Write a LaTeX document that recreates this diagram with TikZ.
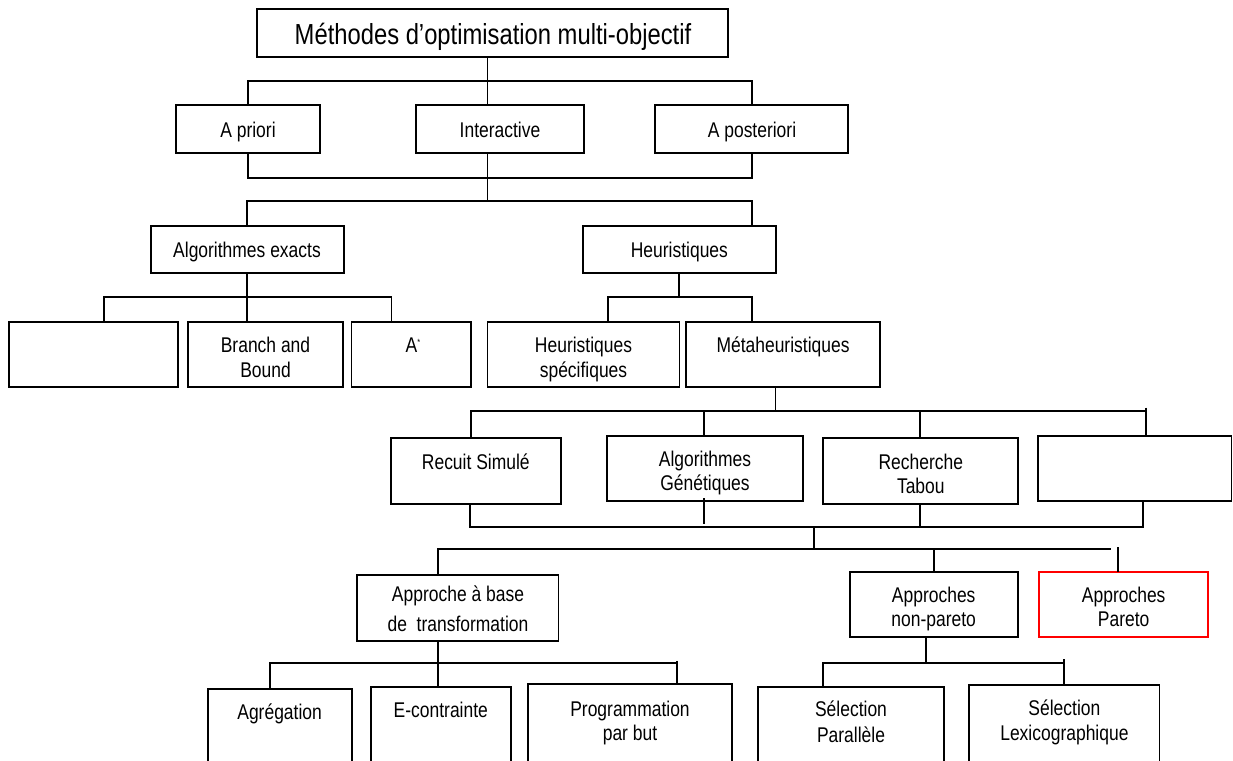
\documentclass[tikz,border=0pt]{standalone}
\usepackage{fontspec}
\setmainfont{Liberation Sans}[FakeStretch=0.82]
\newcommand\nf{\fontsize{21.3}{25}\selectfont}
\newcommand\rf{\fontsize{29}{34}\selectfont}
\newcommand\mkbox[6][]{\node[bx,#1,minimum width={#4-#3},minimum height={#6-#5}] (#2) at ({(#3+#4)/2},{(#5+#6)/2}) {};}
\newcommand\mktxt[4]{\node[lbl] (#1) at (#2,#3) {#4};}
\begin{document}
\begin{tikzpicture}[x=1pt,y=-1pt,
  bx/.style={draw=black,line width=1.9pt,inner sep=0pt,outer sep=0pt},
  lbl/.style={anchor=base,inner sep=0pt,font=\nf,text=black},
  conn/.style={draw=black,line width=1.9pt}]
\fill[white] (0,0) rectangle (1233,760);
\useasboundingbox (0,0) rectangle (1233,760);
\begin{scope}
\clip (0,0) rectangle (1233,760);
% boxes
\mkbox{root}{257.4}{728.4}{9}{57.3}
\mkbox{apri}{175.6}{320.3}{105.3}{153.3}
\mkbox{inter}{416}{583.6}{105.3}{153.3}
\mkbox{apost}{655.3}{848.3}{105.3}{153.3}
\mkbox{algo}{150.6}{343.6}{226}{273.3}
\mkbox{heur}{583.2}{775.6}{226}{273.3}
\mkbox{ex1}{9.1}{178}{321.7}{386.7}
\mkbox{bb}{187.8}{343.2}{321.7}{386.7}
\mkbox{astar}{351.5}{471.3}{321.7}{386.7}
\mkbox{hspec}{487.5}{679.5}{321.7}{386.7}
\mkbox{meta}{686}{879.8}{321.7}{386.7}
\mkbox{rs}{390.9}{560.6}{438.3}{504}
\mkbox{ag}{607.4}{802.7}{435.7}{501}
\mkbox{rt}{823.4}{1018.2}{437.7}{504}
\mkbox{e2}{1038.3}{1231.5}{435.7}{500.7}
\mkbox{appr}{356.9}{558.5}{575}{641}
\mkbox{np}{849.6}{1017.8}{571.7}{636.7}
\mkbox[draw=red]{par}{1039.2}{1208.2}{571.7}{636.7}
\mkbox{agr}{207.6}{351.6}{689}{790}
\mkbox{ec}{370.8}{510.8}{687}{790}
\mkbox{prog}{527.7}{732.3}{684}{790}
\mkbox{sp}{757.8}{944}{686.7}{790}
\mkbox{sl}{969.2}{1159.5}{685}{790}
% texts
\node[lbl,font=\rf] (t-root) at (493,45) {Méthodes d’optimisation multi-objectif};
\mktxt{t-apri}{248}{137}{A priori}
\mktxt{t-inter}{500}{137}{Interactive}
\mktxt{t-apost}{752}{137}{A posteriori}
\mktxt{t-algo}{247}{257}{Algorithmes exacts}
\mktxt{t-heur}{679.4}{257}{Heuristiques}
\mktxt{t-bb1}{265.5}{352}{Branch and}
\mktxt{t-bb2}{265.5}{377}{Bound}
\mktxt{t-astar}{413}{352}{A\raisebox{7pt}{\fontsize{9}{9}\selectfont *}}
\mktxt{t-hs1}{583.5}{352}{Heuristiques}
\mktxt{t-hs2}{583.5}{377}{spécifiques}
\mktxt{t-meta}{783}{352}{Métaheuristiques}
\mktxt{t-rs}{475.8}{469}{Recuit Simulé}
\mktxt{t-ag1}{705}{466}{Algorithmes}
\mktxt{t-ag2}{705}{490.3}{Génétiques}
\mktxt{t-rt1}{920.8}{469}{Recherche}
\mktxt{t-rt2}{920.8}{493.3}{Tabou}
\mktxt{t-ap1}{458}{601.7}{Approche à base}
\mktxt{t-ap2}{458}{631}{de\ \ transformation}
\mktxt{t-np1}{933.7}{602.7}{Approches}
\mktxt{t-np2}{933.7}{626.7}{non-pareto}
\mktxt{t-pa1}{1123.7}{602.7}{Approches}
\mktxt{t-pa2}{1123.7}{626.7}{Pareto}
\mktxt{t-agr}{279.6}{719}{Agrégation}
\mktxt{t-ec}{440.8}{717.3}{E-contrainte}
\mktxt{t-pr1}{630}{716.7}{Programmation}
\mktxt{t-pr2}{630}{740.7}{par but}
\mktxt{t-sp1}{851}{716.7}{Sélection}
\mktxt{t-sp2}{851}{742.3}{Parallèle}
\mktxt{t-sl1}{1064.4}{715.3}{Sélection}
\mktxt{t-sl2}{1064.4}{740.7}{Lexicographique}
% connectors level 0-1
\coordinate (j1) at (487.5,81);
\draw[conn] (root.south -| j1) -- (j1);
\draw[conn] (apri.north) |- (j1) -| (apost.north);
\draw[conn] (j1) -- (j1 |- inter.north);
\coordinate (j2) at (487.5,177.7);
\draw[conn] (apri.south) |- (j2) -| (apost.south);
\coordinate (j3) at (487.5,201.3);
\draw[conn] (j1 |- inter.south) -- (j3);
\draw[conn] (algo.north) |- (j3) -| (apost.south |- heur.north);
% level 2-3 left
\coordinate (j4) at (248,297.3);
\coordinate (j4a) at (103.6,297.3);
\coordinate (j4c) at (391.5,297.3);
\draw[conn] (algo.south) -- (algo.south |- j4);
\draw[conn] (j4a |- ex1.north) -- (j4a) -- (j4c) -- (j4c |- astar.north);
\draw[conn] (algo.south |- j4) -- (algo.south |- bb.north);
% level 2-3 right
\coordinate (j5a) at (608,296.7);
\coordinate (j5b) at (752.2,296.7);
\draw[conn] (heur.south) -- (heur.south |- j5a);
\draw[conn] (j5a |- hspec.north) -- (j5a) -- (j5b) -- (j5b |- meta.north);
% level 3-4
\coordinate (j6) at (775.5,410.7);
\coordinate (j6a) at (471.4,410.7);
\coordinate (j6b) at (703.7,410.7);
\coordinate (j6c) at (919.7,410.7);
\coordinate (j6d) at (1146,410.7);
\draw[conn] (j6 |- meta.south) -- (j6);
\draw[conn] (j6a |- rs.north) -- (j6a) -- (j6d);
\draw[conn] (j6b) -- (j6b |- ag.north);
\draw[conn] (j6c) -- (j6c |- rt.north);
\draw[conn] ([yshift=3pt]j6d) -- (j6d |- e2.north);
% level 4 bottom
\coordinate (j7) at (813.6,526.7);
\coordinate (j7a) at (469.8,526.7);
\coordinate (j7d) at (1143.3,526.7);
\draw[conn] (j7a |- rs.south) -- (j7a) -- (j7d) -- (j7d |- e2.south);
\draw[conn] ([yshift=3pt]j6b |- ag.south) -- ([yshift=3pt]j6b |- j7);
\draw[conn] (j6c |- rt.south) -- (j6c |- j7);
\coordinate (j8) at (813.6,549);
\draw[conn] (j7) -- (j8);
% level 5
\coordinate (j8a) at (438,549);
\coordinate (j8b) at (1111.3,549);
\coordinate (j8c) at (1118,547.3);
\draw[conn] (j8a |- appr.north) -- (j8a) -- (j8b);
\draw[conn] (np.north |- j8a) -- (np.north);
\draw[conn] (j8c) -- (j8c |- par.north);
% level 5-6 left
\coordinate (j9a) at (269.7,663.3);
\coordinate (j9b) at (438,663.3);
\coordinate (j9c) at (676.6,663.3);
\draw[conn] (j9b |- appr.south) -- (j9b);
\draw[conn] (j9a |- agr.north) -- (j9a) -- (j9c);
\draw[conn] (j9b) -- (j9b |- ec.north);
\draw[conn] ([yshift=2.5pt]j9c) -- (j9c |- prog.north);
% level 5-6 right
\coordinate (j10a) at (823.4,663.3);
\coordinate (j10b) at (926,663.3);
\coordinate (j10c) at (1063.7,663.3);
\draw[conn] (j10b |- np.south) -- (j10b);
\draw[conn] (j10a |- sp.north) -- (j10a) -- (j10c);
\draw[conn] ([yshift=4pt]j10c) -- (j10c |- sl.north);
\end{scope}
\end{tikzpicture}
\end{document}
